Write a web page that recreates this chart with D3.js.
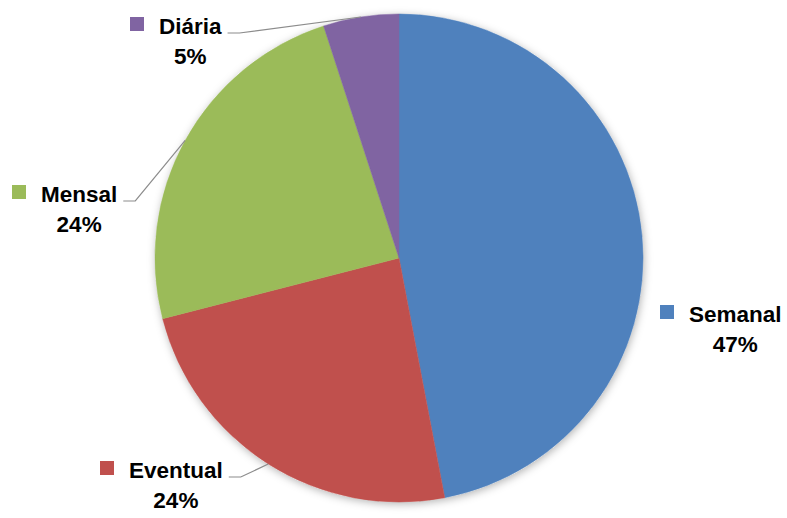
<!DOCTYPE html>
<html>
<head>
<meta charset="utf-8">
<script src="https://cdn.jsdelivr.net/npm/d3@7"></script>
<style>
  html, body { margin: 0; padding: 0; background: #fff; }
  svg text { font-family: "Liberation Sans", Arial, sans-serif; font-weight: bold; fill: #000; }
</style>
</head>
<body>
<div id="chart"></div>
<script>
var categories = ["Semanal", "Eventual", "Mensal", "Diária"];
var values = [47, 24, 24, 5];
var percentLabels = ["47%", "24%", "24%", "5%"];
var colors = ["#4F81BD", "#C0504D", "#9BBB59", "#8064A2"];

// label block placement (left x of legend square, baseline of name)
var labelLayout = {
  "Semanal": { x: 660, y: 322, leader: false },
  "Eventual": { x: 100, y: 478, leader: true },
  "Mensal": { x: 12, y: 202, leader: true },
  "Diária": { x: 130, y: 34, leader: true }
};

var width = 787, height = 518,
  cx = 399, cy = 258, r = 244,
  fontSize = 22.5;

var svg = d3.select("#chart").append("svg").attr("width", width).attr("height", height);

var defs = svg.append("defs");
var f = defs.append("filter").attr("id", "shadow")
  .attr("x", "-10%").attr("y", "-10%").attr("width", "120%").attr("height", "120%");
f.append("feDropShadow").attr("dx", 1).attr("dy", 2).attr("stdDeviation", 4)
  .attr("flood-color", "#000").attr("flood-opacity", 0.3);

var z = d3.scaleOrdinal().domain(categories).range(colors);

var pieData = d3.pie().sort(null).value(function (d, i) { return values[i]; })(categories);
var arc = d3.arc().innerRadius(0).outerRadius(r);

var g = svg.append("g").attr("transform", "translate(" + cx + "," + cy + ")");

g.append("circle").attr("r", r).attr("fill", "#fff").attr("filter", "url(#shadow)");

g.selectAll(".slice")
  .data(pieData)
  .enter()
  .append("path")
  .attr("class", "slice")
  .attr("d", arc)
  .style("fill", function (d) { return z(d.data); })
  .style("stroke", function (d) { return z(d.data); })
  .style("stroke-width", 0.5);

var labels = svg.selectAll(".lbl")
  .data(pieData)
  .enter()
  .append("g")
  .attr("class", "lbl");

labels.each(function (d, i) {
  var L = labelLayout[d.data];
  var el = d3.select(this);
  el.append("rect")
    .attr("x", L.x).attr("y", L.y - 17)
    .attr("width", 14).attr("height", 14)
    .attr("fill", z(d.data));
  var name = el.append("text")
    .attr("x", L.x + 29).attr("y", L.y)
    .attr("font-size", fontSize)
    .text(d.data);
  var w = name.node().getComputedTextLength();
  var mid = L.x + 29 + w / 2;
  el.append("text")
    .attr("x", mid).attr("y", L.y + 30)
    .attr("text-anchor", "middle")
    .attr("font-size", fontSize)
    .text(percentLabels[i]);

  if (L.leader) {
    var a = (d.startAngle + d.endAngle) / 2;
    var px = cx + r * Math.sin(a), py = cy - r * Math.cos(a);
    var sx = L.x + 29 + w + 6, sy = L.y - 1;
    var pts = [[sx, sy], [sx + 12, sy], [px, py]];
    svg.append("path")
      .attr("d", d3.line()(pts))
      .attr("fill", "none")
      .attr("stroke", "#8c8c8c")
      .attr("stroke-width", 1.2);
  }
});
</script>
</body>
</html>
